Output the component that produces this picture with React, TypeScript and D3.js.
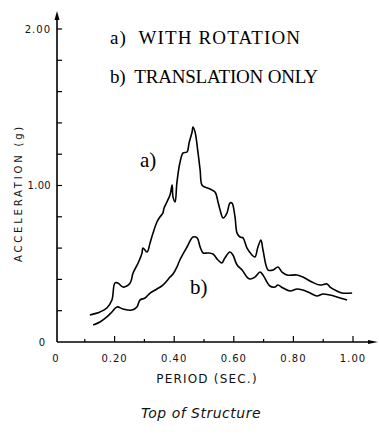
import * as React from 'react';
import * as d3 from 'd3';

// period (sec) / acceleration (g)
const periodA = [0.117, 0.151, 0.174, 0.191, 0.201, 0.211, 0.228, 0.252, 0.262, 0.279, 0.292, 0.295, 0.309, 0.319, 0.329, 0.342, 0.352, 0.362, 0.366, 0.386, 0.393, 0.396, 0.403, 0.409, 0.419, 0.430, 0.443, 0.450, 0.460, 0.463, 0.470, 0.480, 0.487, 0.493, 0.503, 0.520, 0.537, 0.547, 0.554, 0.564, 0.577, 0.587, 0.594, 0.604, 0.611, 0.621, 0.631, 0.644, 0.661, 0.671, 0.681, 0.691, 0.698, 0.715, 0.732, 0.748, 0.762, 0.779, 0.812, 0.832, 0.862, 0.889, 0.913, 0.923, 0.946, 0.963, 0.997];
const accelA = [0.173, 0.192, 0.217, 0.268, 0.377, 0.377, 0.351, 0.377, 0.441, 0.505, 0.569, 0.601, 0.575, 0.633, 0.696, 0.767, 0.799, 0.824, 0.856, 0.939, 1.003, 0.927, 0.895, 1.016, 1.144, 1.208, 1.214, 1.272, 1.342, 1.374, 1.342, 1.208, 1.099, 1.003, 0.990, 0.978, 0.958, 0.895, 0.843, 0.792, 0.824, 0.888, 0.888, 0.799, 0.696, 0.671, 0.665, 0.601, 0.556, 0.543, 0.607, 0.652, 0.588, 0.460, 0.460, 0.479, 0.447, 0.428, 0.428, 0.415, 0.383, 0.364, 0.371, 0.351, 0.326, 0.313, 0.313];

const periodB = [0.128, 0.151, 0.174, 0.191, 0.208, 0.228, 0.258, 0.275, 0.285, 0.302, 0.319, 0.342, 0.362, 0.386, 0.396, 0.409, 0.419, 0.443, 0.463, 0.477, 0.487, 0.497, 0.513, 0.530, 0.547, 0.560, 0.570, 0.587, 0.597, 0.611, 0.628, 0.644, 0.654, 0.671, 0.688, 0.698, 0.721, 0.738, 0.748, 0.765, 0.789, 0.812, 0.832, 0.856, 0.879, 0.899, 0.923, 0.946, 0.980];
const accelB = [0.109, 0.128, 0.160, 0.192, 0.224, 0.211, 0.204, 0.224, 0.268, 0.281, 0.313, 0.339, 0.364, 0.415, 0.435, 0.479, 0.524, 0.607, 0.671, 0.665, 0.607, 0.569, 0.569, 0.562, 0.524, 0.505, 0.537, 0.575, 0.556, 0.492, 0.460, 0.415, 0.403, 0.415, 0.447, 0.428, 0.358, 0.351, 0.364, 0.345, 0.326, 0.339, 0.332, 0.313, 0.294, 0.307, 0.300, 0.288, 0.268];

const xTicks = [0.2, 0.4, 0.6, 0.8, 1.0];
const xMinor = [0.1, 0.3, 0.5, 0.7, 0.9];
const yTicks = [0, 0.2, 0.4, 0.6, 0.8, 1.0, 1.2, 1.4, 1.6, 1.8, 2.0];
const yLabels = ['0', '1.00', '2.00'];
const legend = ['a)  WITH ROTATION', 'b)  TRANSLATION ONLY'];
const legendWidths = [190, 208];

const W = 379;
const H = 436;

export default function App() {
  const x = d3.scaleLinear().domain([0, 1]).range([55, 353]);
  const y = d3.scaleLinear().domain([0, 2]).range([342, 29]);

  const line = d3
    .line<[number, number]>()
    .x(d => x(d[0]))
    .y(d => y(d[1]))
    .curve(d3.curveCatmullRom.alpha(0.5));

  const ptsA = periodA.map((p, i) => [p, accelA[i]] as [number, number]);
  const ptsB = periodB.map((p, i) => [p, accelB[i]] as [number, number]);

  const axX = 57;
  const axY = y(0);
  const tickFont = { fontFamily: 'DejaVu Sans', fontSize: 10, letterSpacing: 1, fill: '#111' };

  return (
    <svg width={W} height={H} style={{ position: 'fixed', left: 0, top: 0, background: '#fff' }}>
      {/* axes */}
      <line x1={axX} y1={axY} x2={axX} y2={16} stroke="#000" strokeWidth={1.6} />
      <path d={`M${axX - 2.5},20 L${axX},11 L${axX + 2.5},20 Z`} fill="#000" />
      <line x1={axX} y1={axY} x2={372} y2={axY} stroke="#000" strokeWidth={1.6} />
      <path d={`M368,${axY - 2} L378,${axY} L368,${axY + 2} Z`} fill="#000" />

      {yTicks.map(t => (
        <line key={'y' + t} x1={axX} x2={axX + (t === 0 ? 0 : 5)} y1={y(t)} y2={y(t)} stroke="#000" strokeWidth={1.2} />
      ))}
      {xTicks.map(t => (
        <line key={'x' + t} x1={x(t)} x2={x(t)} y1={axY} y2={axY - 6} stroke="#000" strokeWidth={1.2} />
      ))}
      {xMinor.map(t => (
        <line key={'xm' + t} x1={x(t)} x2={x(t)} y1={axY} y2={axY - 3} stroke="#000" strokeWidth={1.2} />
      ))}

      {/* tick labels */}
      {yLabels.map(l => (
        <text key={l} x={l === '0' ? 46 : 51} y={y(+l)} dy="0.35em" textAnchor="end" {...tickFont} letterSpacing={l === '1.00' ? 0.3 : 1}>
          {l}
        </text>
      ))}
      <text x={56} y={362} textAnchor="middle" {...tickFont}>0</text>
      {xTicks.map(t => (
        <text key={'xl' + t} x={x(t)} y={362} textAnchor="middle" {...tickFont}>
          {t.toFixed(2)}
        </text>
      ))}

      {/* axis titles */}
      <text
        transform="translate(22,193) rotate(-90)"
        textAnchor="middle"
        fontFamily="DejaVu Sans"
        fontSize={10}
        letterSpacing={2.8}
        fill="#111"
      >
        ACCELERATION (g)
      </text>
      <text x={207} y={383} textAnchor="middle" fontFamily="DejaVu Sans" fontSize={12} letterSpacing={1.2} fill="#111">
        PERIOD (SEC.)
      </text>
      <text x={201} y={418} textAnchor="middle" fontFamily="DejaVu Sans" fontStyle="italic" fontSize={14} letterSpacing={0.5} fill="#111">
        Top of Structure
      </text>

      {/* legend */}
      {legend.map((l, i) => (
        <text
          key={l}
          x={110}
          y={44 + i * 39}
          fontFamily="Liberation Serif"
          fontSize={19}
          fill="#000"
          xmlSpace="preserve"
          textLength={legendWidths[i]}
          lengthAdjust="spacing"
        >
          {l}
        </text>
      ))}

      {/* curves */}
      <path d={line(ptsA) || ''} fill="none" stroke="#000" strokeWidth={1.6} strokeLinejoin="round" />
      <path d={line(ptsB) || ''} fill="none" stroke="#000" strokeWidth={1.6} strokeLinejoin="round" />

      <text x={140} y={167} fontFamily="Liberation Serif" fontSize={21} fill="#000">a)</text>
      <text x={190} y={294} fontFamily="Liberation Serif" fontSize={21} fill="#000">b)</text>
    </svg>
  );
}
